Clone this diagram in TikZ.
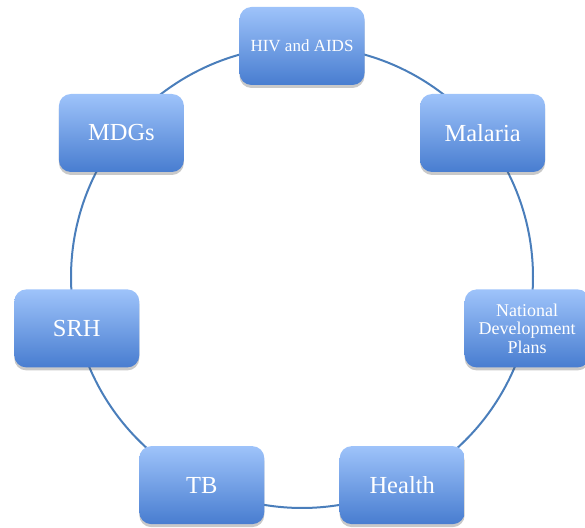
\documentclass[tikz,border=0pt]{standalone}
\usepackage{fontspec}
\setmainfont{Liberation Serif}
\usetikzlibrary{shadows,backgrounds}
\definecolor{boxtop}{RGB}{158,195,250}
\definecolor{boxbot}{RGB}{72,125,208}
\definecolor{linkblue}{RGB}{74,126,187}
\begin{document}
\begin{tikzpicture}[x=1pt,y=1pt,
  box/.style={rectangle, rounded corners=12pt, minimum width=125pt, minimum height=78pt,
    top color=boxtop, bottom color=boxbot, text=white, align=center, inner sep=0pt,
    font=\fontsize{24.5}{27}\selectfont,
    drop shadow={shadow xshift=0pt, shadow yshift=-3pt, opacity=0.3, fill=black!70}},
  small/.style={font=\fontsize{17}{18.5}\selectfont},
  ndptext/.style={font=\fontsize{18}{18.5}\selectfont},
  link/.style={draw=linkblue, line width=2pt}]
\useasboundingbox (0,0) rectangle (585,527);
\coordinate (C) at (302,250);
\node[box,small] (hiv) at ([shift={(90:231)}]C) {HIV and AIDS};
\node[box] (mdg) at ([shift={(141.43:231)}]C) {MDGs};
\node[box] (srh) at ([shift={(192.86:231)}]C) {SRH};
\node[box] (tb) at ([shift={(244.29:231)}]C) {TB};
\node[box] (health) at ([shift={(295.71:231)}]C) {Health};
\node[box,ndptext] (ndp) at ([shift={(347.14:231)}]C) {National\\Development\\Plans};
\node[box] (mal) at ([shift={(38.57:231)}]C) {Malaria};
\begin{scope}[on background layer]
\draw[link] (hiv.center) arc[start angle=90, delta angle=51.43, radius=231pt];
\draw[link] (mdg.center) arc[start angle=141.43, delta angle=51.43, radius=231pt];
\draw[link] (srh.center) arc[start angle=192.86, delta angle=51.43, radius=231pt];
\draw[link] (tb.center) arc[start angle=244.29, delta angle=51.43, radius=231pt];
\draw[link] (health.center) arc[start angle=295.71, delta angle=51.43, radius=231pt];
\draw[link] (ndp.center) arc[start angle=347.14, delta angle=51.43, radius=231pt];
\draw[link] (mal.center) arc[start angle=38.57, delta angle=51.43, radius=231pt];
\end{scope}
\end{tikzpicture}
\end{document}
